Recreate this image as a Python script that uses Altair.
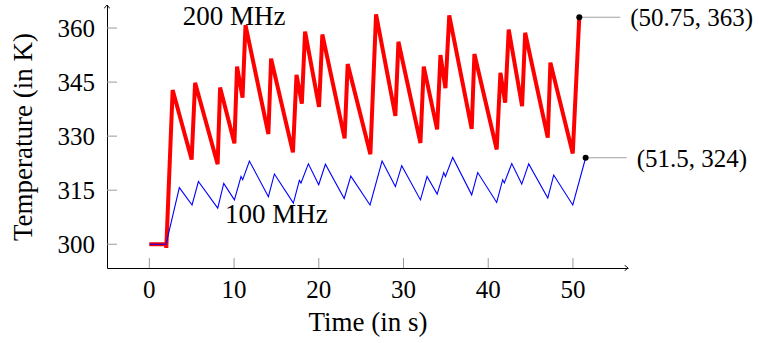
import altair as alt
import pandas as pd

# 200 MHz run: time (s) and temperature (K)
red_t = [0, 1.95, 2.0, 2.75, 4.99, 5.4, 8.06, 8.35, 10.04, 10.35, 11.0, 11.35,
         14.05, 14.37, 16.95, 17.37, 18.0, 18.38, 20.03, 20.42, 23.05, 23.41,
         26.09, 26.76, 29.04, 29.4, 32.0, 32.39, 33.97, 34.36, 34.95, 35.4,
         38.05, 38.37, 41.0, 41.44, 42.0, 42.42, 44.0, 44.36, 47.03, 47.34,
         49.98, 50.75]
red_T = [300, 300, 299, 342.8, 323.5, 344.8, 322.2, 343.5, 328, 349.3, 340.7, 360.8,
         330.6, 351.5, 325.5, 347, 339, 359, 338.1, 358.2, 329.4, 350,
         325, 363.8, 335.6, 356.2, 328.1, 349.3, 331.9, 352.5, 343.3, 363.5,
         332, 352.8, 326.3, 347.6, 339.3, 359.6, 338.3, 358.7, 329.6, 350.4,
         325.2, 363]

# 100 MHz run
blue_t = [0, 1.97, 3.54, 5.04, 5.79, 8.07, 8.78, 10.04, 10.82, 11.02, 11.81,
          14.05, 14.76, 17.0, 17.71, 17.9, 18.77, 19.99, 20.78, 23.0, 23.78,
          26.05, 27.47, 29.04, 29.79, 32.0, 32.78, 33.97, 34.75, 34.95, 35.81,
          38.05, 38.76, 41.0, 41.71, 41.9, 42.78, 43.96, 44.78, 47.03, 47.73,
          49.98, 51.5]
blue_T = [300, 300, 315.7, 310.9, 317.4, 310, 316.9, 312.3, 318.8, 317.9, 323.1,
          313.2, 319.5, 311.4, 317.7, 317, 322.3, 316.5, 322.2, 312.7, 318.9,
          310.9, 323.1, 316, 321.8, 312.3, 318.8, 313.9, 319.9, 318.8, 324.1,
          313.7, 319.9, 311.6, 317.9, 317, 322.4, 316.7, 322.3, 312.8, 319.2,
          310.9, 324]

# axis ticks
x_ticks = [0, 10, 20, 30, 40, 50]
y_ticks = [300, 315, 330, 345, 360]

# pinned end points
pin_t = [50.75, 51.5]
pin_T = [363, 324]
pin_text = ["(50.75, 363)", "(51.5, 324)"]

# series labels
lab_t = [10, 15]
lab_T = [363, 308]
lab_text = ["200 MHz", "100 MHz"]

FONT = "Liberation Serif"
W, H = 521, 263
X_DOM = [-5, 56.5]
Y_DOM = [293.4, 366.4]

red = pd.DataFrame({"t": red_t, "T": red_T, "i": range(len(red_t))})
blue = pd.DataFrame({"t": blue_t, "T": blue_T, "i": range(len(blue_t))})
pins = pd.DataFrame({"t": pin_t, "T": pin_T, "txt": pin_text})
labs = pd.DataFrame({"t": lab_t, "T": lab_T, "txt": lab_text})
xt = pd.DataFrame({"v": x_ticks, "txt": [str(v) for v in x_ticks]})
yt = pd.DataFrame({"v": y_ticks, "txt": [str(v) for v in y_ticks]})

xs = alt.Scale(domain=X_DOM, nice=False, zero=False)
ys = alt.Scale(domain=Y_DOM, nice=False, zero=False)

# axes keep only the domain line and the title; tick labels are text marks
x_axis = alt.Axis(values=x_ticks, ticks=False, tickSize=0, grid=False,
                  labels=False, domainColor="black", domainWidth=1,
                  title="Time (in s)", titleFont=FONT,
                  titleFontSize=27, titleFontWeight="normal", titleColor="black",
                  titlePadding=41)
y_axis = alt.Axis(values=y_ticks, ticks=False, tickSize=0, grid=False,
                  labels=False, domainColor="black", domainWidth=1,
                  title="Temperature (in K)", titleFont=FONT,
                  titleFontSize=27, titleFontWeight="normal", titleColor="black",
                  titlePadding=70)


def X(field):
    return alt.X(field, scale=xs, axis=x_axis)


def Y(field):
    return alt.Y(field, scale=ys, axis=y_axis)


red_line = alt.Chart(red).mark_line(color="#ff0000", strokeWidth=4,
                                    strokeJoin="miter").encode(
    x=X("t:Q"), y=Y("T:Q"), order="i:Q",
)
blue_line = alt.Chart(blue).mark_line(color="#0000ff", strokeWidth=1.1,
                                      strokeJoin="miter").encode(
    x=X("t:Q"), y=Y("T:Q"), order="i:Q",
)

# inward gray ticks
x_tick_marks = alt.Chart(xt).mark_rule(color="#9a9a9a", strokeWidth=1).encode(
    x=X("v:Q"), y=alt.value(H), y2=alt.value(H - 10))
y_tick_marks = alt.Chart(yt).mark_rule(color="#9a9a9a", strokeWidth=1).encode(
    y=Y("v:Q"), x=alt.value(0), x2=alt.value(10))

# tick labels
x_tick_labels = alt.Chart(xt).mark_text(font=FONT, fontSize=25, align="center",
                                        baseline="middle", color="black").encode(
    x=X("v:Q"), y=alt.value(H + 22), text="txt:N")
y_tick_labels = alt.Chart(yt).mark_text(font=FONT, fontSize=25, align="right",
                                        baseline="middle", dy=1,
                                        color="black").encode(
    y=Y("v:Q"), x=alt.value(-12), text="txt:N")

# arrow heads at the axis ends
arrow_right = alt.Chart(xt).transform_filter("datum.v == 0").mark_point(
    shape="M-1,-0.9 Q-0.35,-0.15 0,0 Q-0.35,0.15 -1,0.9", filled=False,
    stroke="black", strokeWidth=1, size=40, opacity=1).encode(
    x=alt.value(W), y=alt.value(H))
arrow_up = alt.Chart(xt).transform_filter("datum.v == 0").mark_point(
    shape="M-0.9,1 Q-0.15,0.35 0,0 Q0.15,0.35 0.9,1", filled=False,
    stroke="black", strokeWidth=1, size=40, opacity=1).encode(
    x=alt.value(0), y=alt.value(0))

# pins
pin_lines = alt.Chart(pins).mark_rule(color="#a0a0a0", strokeWidth=1,
                                      x2Offset=41).encode(
    x=X("t:Q"), x2="t:Q", y=Y("T:Q"))
pin_dots = alt.Chart(pins).mark_circle(color="black", size=36, opacity=1).encode(
    x=X("t:Q"), y=Y("T:Q"))
pin_labels = alt.Chart(pins).mark_text(font=FONT, fontSize=25, align="left",
                                       baseline="middle", dx=51, dy=1,
                                       color="black").encode(
    x=X("t:Q"), y=Y("T:Q"), text="txt:N")

series_labels = alt.Chart(labs).mark_text(font=FONT, fontSize=27, align="center",
                                          baseline="middle", color="black").encode(
    x=X("t:Q"), y=Y("T:Q"), text="txt:N")

chart = alt.layer(
    red_line, x_tick_marks, y_tick_marks, blue_line,
    x_tick_labels, y_tick_labels,
    pin_lines, pin_dots, pin_labels, series_labels, arrow_right, arrow_up,
).properties(
    width=W, height=H,
    autosize=alt.AutoSizeParams(type="none"),
    padding={"left": 107, "top": 5, "right": 131, "bottom": 75},
    background="white",
).configure_view(stroke=None).configure_axis(
    titleFont=FONT
).configure_text(font=FONT)

chart.save("out.html", embed_options={"renderer": "svg", "actions": False})
